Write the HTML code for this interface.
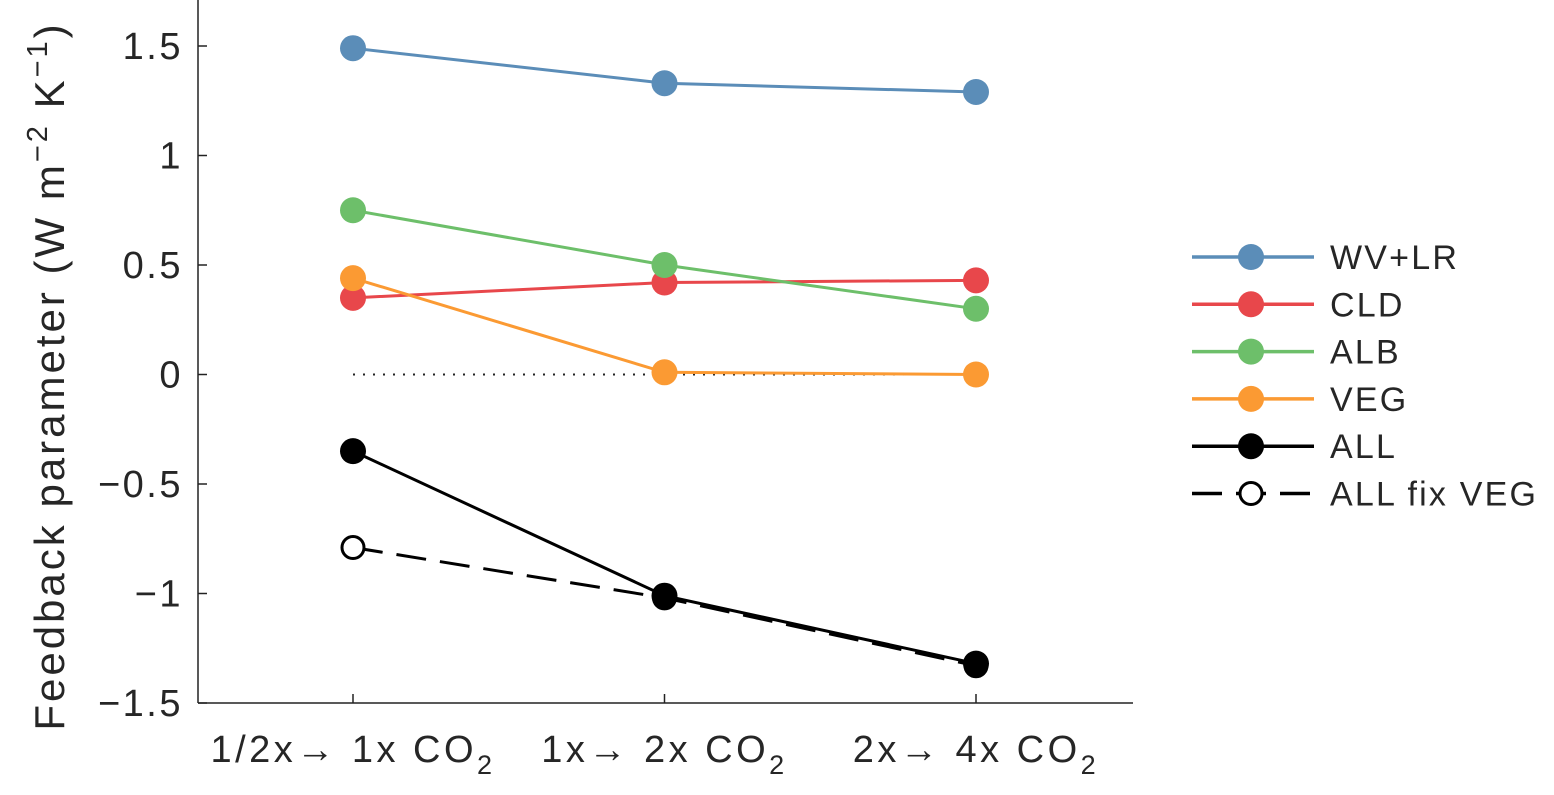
<!DOCTYPE html>
<html><head><meta charset="utf-8"><style>
html,body{margin:0;padding:0;background:#fff;}
svg{display:block;font-family:"Liberation Sans","DejaVu Sans",sans-serif;}
</style></head><body>
<svg id="chart" width="1554" height="795" viewBox="0 0 1554 795" xmlns="http://www.w3.org/2000/svg">
<g id="axes"></g>
<g id="series"></g>
<g id="legend"></g>
</svg>
<script>
const categories = ["1/2x\u2192 1x CO", "1x\u2192 2x CO", "2x\u2192 4x CO"];
const yTicks = [1.5, 1, 0.5, 0, -0.5, -1, -1.5];
const yTickLabels = ["1.5", "1", "0.5", "0", "\u22120.5", "\u22121", "\u22121.5"];
const seriesNames = ["WV+LR", "CLD", "ALB", "VEG", "ALL", "ALL fix VEG"];
const wvlr = [1.49, 1.33, 1.29];
const cld = [0.35, 0.42, 0.43];
const alb = [0.75, 0.50, 0.30];
const veg = [0.44, 0.01, 0.00];
const all = [-0.35, -1.01, -1.32];
const allFixVeg = [-0.79, -1.02, -1.33];

const NS = "http://www.w3.org/2000/svg";
const X0 = 198, X1 = 1133, YT = 46, YB = 703;
function yScale(v){ return YT + (1.5 - v) / 3 * (YB - YT); }
function xScale(i){ return 353 + i * 311.5; }
function mk(tag, attrs, parent){ const e = document.createElementNS(NS, tag); for (const k in attrs) e.setAttribute(k, attrs[k]); parent.appendChild(e); return e; }

const axes = document.getElementById('axes');
let l = mk('line', {x1:X0, y1:0, x2:X0, y2:YB, stroke:'#222', 'stroke-width':1.5}, axes);


l = mk('line', {x1:X0, y1:YB, x2:X1, y2:YB, stroke:'#222', 'stroke-width':1.5}, axes);


yTicks.forEach((v, i) => {
  const y = yScale(v);
  mk('line', {x1:X0, y1:y, x2:X0 + 9, y2:y, stroke:'#222', 'stroke-width':1.5}, axes);
  const t = mk('text', {x:183, y:y + 13, 'text-anchor':'end', 'font-size':38, 'letter-spacing':2.5, fill:'#262626'}, axes);
  t.textContent = yTickLabels[i];
  
  
});
categories.forEach((c, i) => {
  const x = xScale(i);
  mk('line', {x1:x, y1:YB, x2:x, y2:YB - 9, stroke:'#222', 'stroke-width':1.5}, axes);
  const t = mk('text', {x:x, y:762, 'text-anchor':'middle', 'font-size':38, 'letter-spacing':3.5, fill:'#262626'}, axes);
  t.textContent = c;
  const s = mk('tspan', {'font-size':27, dy:12}, t);
  s.textContent = '2';
  
  
});
const yl = mk('text', {x:0, y:0, transform:'translate(64,376) rotate(-90)', 'text-anchor':'middle', 'font-size':42, 'letter-spacing':3, fill:'#262626'}, axes);
yl.innerHTML = 'Feedback parameter (W m<tspan font-size="29" dy="-17">\u22122</tspan><tspan dy="17"> K</tspan><tspan font-size="29" dy="-17">\u22121</tspan><tspan dy="17">)</tspan>';


l = mk('line', {x1:xScale(0), y1:yScale(0), x2:xScale(2), y2:yScale(0), stroke:'#222', 'stroke-width':2, 'stroke-dasharray':'2 8'}, axes);



const colors = ['#5b8db8', '#e8474b', '#6dbf6a', '#fb9a33', '#000', '#000'];
const data = [wvlr, cld, alb, veg, all, allFixVeg];
const sg = document.getElementById('series');
const order = [5, 0, 1, 2, 3, 4];
order.forEach(si => {
  const vals = data[si];
  const g = mk('g', {}, sg);
  
  
  const pts = vals.map((v, i) => xScale(i) + ',' + yScale(v)).join(' ');
  const pl = mk('polyline', {points:pts, fill:'none', stroke:colors[si], 'stroke-width':3}, g);
  if (si === 5) pl.setAttribute('stroke-dasharray', '30 14');
  
  
  vals.forEach((v, i) => {
    const c = mk('circle', {cx:xScale(i), cy:yScale(v), r:si === 5 ? 11 : 13, fill:si === 5 ? '#fff' : colors[si], stroke:si === 5 ? '#000' : 'none', 'stroke-width':3}, g);
    
    
  });
});

const lg = document.getElementById('legend');
seriesNames.forEach((n, i) => {
  const y = 257 + i * 47.3;
  const g = mk('g', {}, lg);
  
  
  const ln = mk('line', {x1:1192, y1:y, x2:1314, y2:y, stroke:colors[i], 'stroke-width':3.5}, g);
  if (i === 5) ln.setAttribute('stroke-dasharray', '30 14');
  mk('circle', {cx:1251, cy:y, r:i === 5 ? 11 : 13, fill:i === 5 ? '#fff' : colors[i], stroke:i === 5 ? '#000' : 'none', 'stroke-width':3}, g);
  const t = mk('text', {x:1330, y:y + 12, 'font-size':34, 'letter-spacing':2.2, fill:'#262626'}, g);
  t.textContent = n;
});
</script>
</body></html>
